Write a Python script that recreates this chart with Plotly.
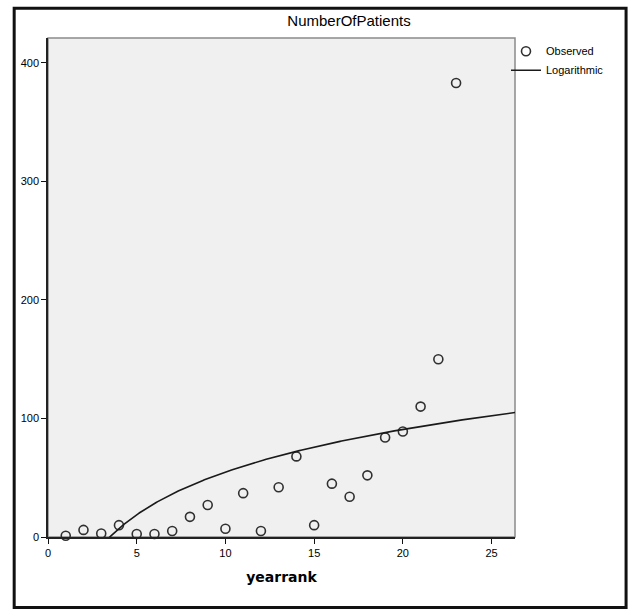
import numpy as np
import plotly.graph_objects as go

# Data
yearrank = [1, 2, 3, 4, 5, 6, 7, 8, 9, 10, 11, 12, 13, 14, 15, 16, 17, 18, 19, 20, 21, 22, 23]
patients = [1, 6, 3, 10, 2.5, 2.5, 5, 17, 27, 7, 37, 5, 42, 68, 10, 45, 34, 52, 84, 89, 110, 150, 383]
x_ticks = [0, 5, 10, 15, 20, 25]
y_ticks = [0, 100, 200, 300, 400]

# Logarithmic fit y = a + b*ln(x), computed from the observed data
b, a = np.polyfit(np.log(yearrank), patients, 1)
x_fit = np.linspace(1, 26.4, 300)
y_fit = a + b * np.log(x_fit)

W, H = 630, 610
L, R, T, B = 48.3, 515, 38.3, 537
xr = [0, 26.32]
yr = [0, 421]

fig = go.Figure()
fig.add_trace(go.Scatter(
    x=yearrank, y=patients, mode="markers", name="Observed",
    marker=dict(symbol="circle-open", size=9, color="#303030", line=dict(width=1.6)),
    cliponaxis=False,
))
fig.add_trace(go.Scatter(
    x=x_fit, y=y_fit, mode="lines", name="Logarithmic",
    line=dict(color="#1a1a1a", width=1.6),
))

def px_x(p):
    return (p - L) / (R - L)

def px_y(p):
    return (B - p) / (B - T)

shapes = [
    # plot area border (grey top/right)
    dict(type="rect", xref="paper", yref="paper", x0=0, y0=0, x1=1, y1=1,
         line=dict(color="#8a8a8a", width=1.5), layer="below"),
    # outer frame
    dict(type="rect", xref="paper", yref="paper",
         x0=px_x(14.5), x1=px_x(626), y0=px_y(8.5), y1=px_y(607.5),
         line=dict(color="#111111", width=3)),
]

tickfont = dict(size=11, color="#000000", family="Liberation Sans, Arial, sans-serif")

fig.update_layout(
    width=W, height=H,
    margin=dict(l=L, r=W - R, t=T, b=H - B, pad=0),
    paper_bgcolor="white",
    plot_bgcolor="#f0f0f0",
    font=dict(family="Liberation Sans, Arial, sans-serif", size=11, color="#000000"),
    title=dict(text="NumberOfPatients", xref="container", yref="container",
               x=349 / W, y=1 - 21 / H, xanchor="center", yanchor="middle",
               font=dict(size=15, color="#000000")),
    showlegend=True,
    legend=dict(x=px_x(506), y=px_y(37), xanchor="left", yanchor="top",
                bgcolor="rgba(0,0,0,0)", borderwidth=0, itemwidth=30,
                tracegroupgap=0, font=dict(size=11, color="#000000")),
    shapes=shapes,
    xaxis=dict(range=xr, tickvals=x_ticks, ticks="outside", ticklen=5, tickcolor="#111",
               tickfont=tickfont,
               showgrid=False, zeroline=False, showline=True, linecolor="#222", linewidth=1.5,
               title=dict(text="<b>yearrank</b>", standoff=14,
                          font=dict(size=14, family="DejaVu Sans, sans-serif", color="#000"))),
    yaxis=dict(range=yr, tickvals=y_ticks, ticks="outside", ticklen=5, tickcolor="#111",
               tickfont=tickfont,
               showgrid=False, zeroline=False, showline=True, linecolor="#222", linewidth=1.5),
)

fig.write_html("out.html")
